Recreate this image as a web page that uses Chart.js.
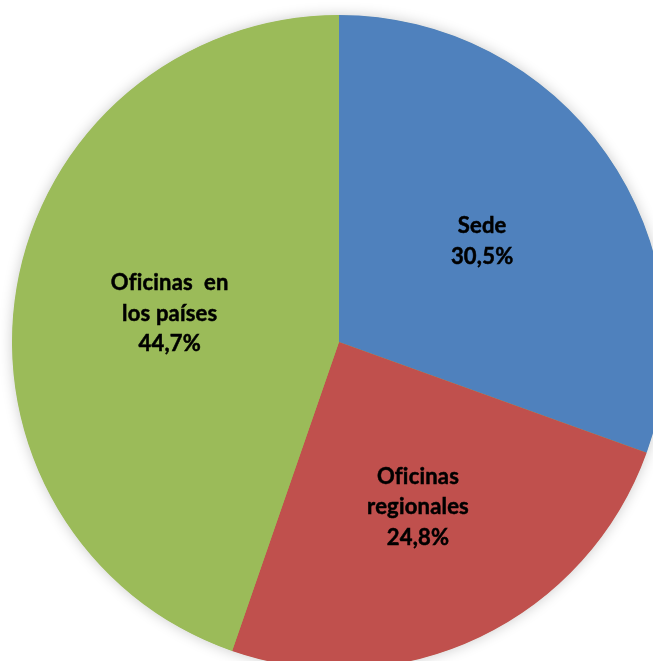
<!DOCTYPE html>
<html>
<head>
<meta charset="utf-8">
<script src="https://cdn.jsdelivr.net/npm/chart.js@4/dist/chart.umd.min.js"></script>
<style>
  html, body { margin: 0; padding: 0; background: #ffffff; width: 653px; height: 661px; overflow: hidden; }
  #wrap { position: absolute; left: -11px; top: -8px; width: 700px; height: 700px; }
</style>
</head>
<body>
<div id="wrap"><canvas id="c"></canvas></div>
<script>
const categories = ['Sede', 'Oficinas regionales', 'Oficinas en los países'];
const labelLines = [['Sede'], ['Oficinas', 'regionales'], ['Oficinas  en', 'los países']];
const values = [30.5, 24.8, 44.7];
const valueLabels = ['30,5%', '24,8%', '44,7%'];
const colors = ['#4F81BD', '#C0504D', '#9BBB59'];
const labelRadius = [0.535, 0.56, 0.525];

const shadowPlugin = {
  id: 'pieShadow',
  beforeDatasetsDraw(chart) {
    const arc = chart.getDatasetMeta(0).data[0];
    if (!arc) return;
    const ctx = chart.ctx;
    ctx.save();
    ctx.shadowColor = 'rgba(0,0,0,0.22)';
    ctx.shadowBlur = 14;
    ctx.shadowOffsetX = 0;
    ctx.shadowOffsetY = 0;
    ctx.fillStyle = '#9BBB59';
    ctx.beginPath();
    ctx.arc(arc.x, arc.y, arc.outerRadius - 0.5, 0, Math.PI * 2);
    ctx.fill();
    ctx.restore();
  }
};

const labelPlugin = {
  id: 'sliceLabels',
  afterDatasetsDraw(chart) {
    const ctx = chart.ctx;
    const meta = chart.getDatasetMeta(0);
    ctx.save();
    ctx.font = 'bold 22px Lato, "Open Sans", sans-serif';
    try { ctx.letterSpacing = '0.2px'; } catch (e) {}
    ctx.fillStyle = '#000000';
    ctx.strokeStyle = '#000000';
    ctx.lineWidth = 0.5;
    ctx.textAlign = 'center';
    ctx.textBaseline = 'middle';
    const lh = 30.5;
    meta.data.forEach((arc, i) => {
      const mid = (arc.startAngle + arc.endAngle) / 2;
      const r = arc.outerRadius * labelRadius[i];
      const cx = arc.x + Math.cos(mid) * r;
      const cy = arc.y + Math.sin(mid) * r;
      const lines = labelLines[i].concat([valueLabels[i]]);
      const top = cy - (lines.length - 1) * lh / 2;
      lines.forEach((t, k) => {
        ctx.fillText(t, cx, top + k * lh);
        ctx.strokeText(t, cx, top + k * lh);
      });
    });
    ctx.restore();
  }
};

new Chart(document.getElementById('c'), {
  type: 'pie',
  data: {
    labels: categories,
    datasets: [{
      data: values,
      backgroundColor: colors,
      borderWidth: 0,
      hoverOffset: 0
    }]
  },
  options: {
    responsive: true,
    maintainAspectRatio: false,
    animation: false,
    layout: { padding: 23 },
    plugins: {
      legend: { display: false },
      tooltip: { enabled: false }
    }
  },
  plugins: [shadowPlugin, labelPlugin]
});
</script>
</body>
</html>
